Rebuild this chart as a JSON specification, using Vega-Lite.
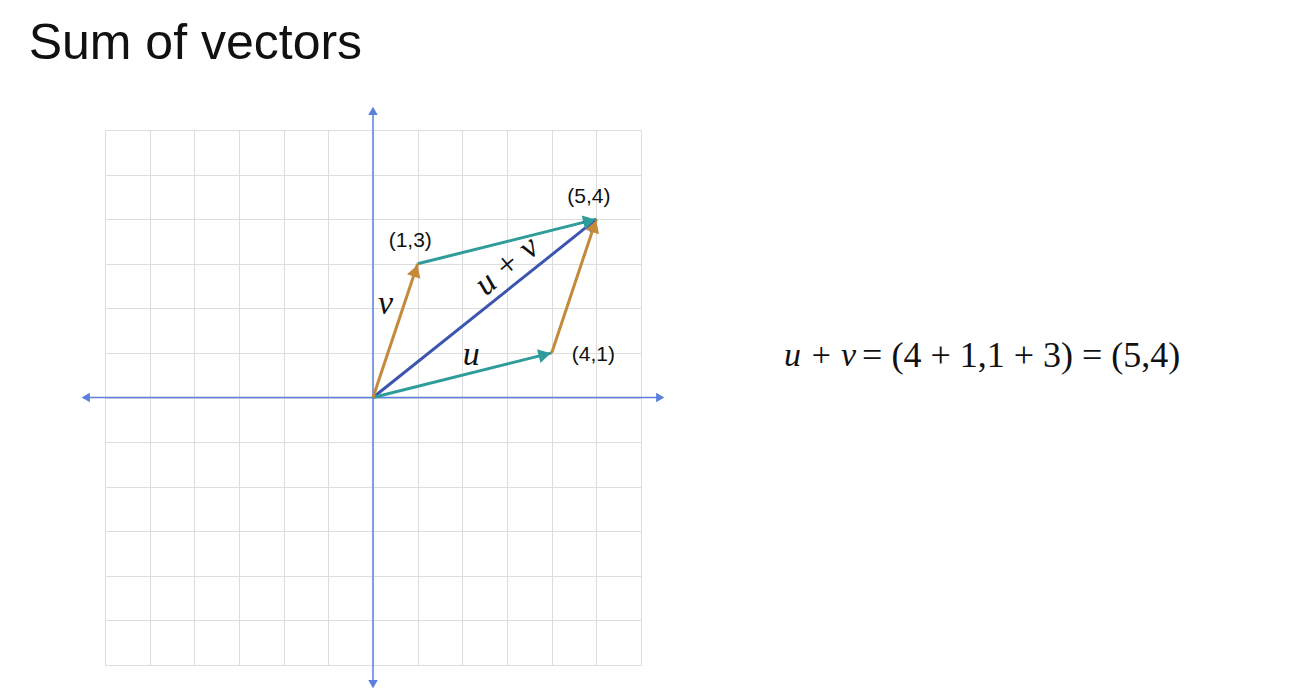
{
"$schema":"https://vega.github.io/schema/vega-lite/v6.json",
"width":536,"height":535,
"autosize":{"type":"none"},
"padding":{"left":105,"top":130,"right":672,"bottom":23},
"background":"white",
"title":{"text":"Sum of vectors","anchor":"start","frame":"bounds","dx":-53,"offset":38,"fontSize":50,"font":"Liberation Sans","fontWeight":"normal","color":"#111"},
"config":{"view":{"stroke":"#ddd"}},
"datasets":{
"axes":[{"x":-6.4,"y":0,"x2":6.4,"y2":0},{"x":0,"y":-6.4,"x2":0,"y2":6.4}],
"heads":[{"x":-6.4,"y":0,"a":-90},{"x":6.4,"y":0,"a":90},{"x":0,"y":6.4,"a":0},{"x":0,"y":-6.4,"a":180}],
"vecs":[
{"name":"sum","x":0,"y":0,"x2":5,"y2":4,"hx":4.85,"hy":3.88,"a":51.34},
{"name":"teal","x":0,"y":0,"x2":4,"y2":1,"hx":3.8,"hy":0.95,"a":75.96},
{"name":"teal","x":1,"y":3,"x2":5,"y2":4,"hx":4.8,"hy":3.95,"a":75.96},
{"name":"orange","x":0,"y":0,"x2":1,"y2":3,"hx":0.94,"hy":2.8,"a":18.43},
{"name":"orange","x":4,"y":1,"x2":5,"y2":4,"hx":4.94,"hy":3.8,"a":18.43}],
"pts":[{"t":"(1,3)","x":0.35,"y":3.5},{"t":"(5,4)","x":4.35,"y":4.5},{"t":"(4,1)","x":4.45,"y":0.95}],
"math":[{"t":"u","x":2.2,"y":0.95,"r":0},{"t":"v","x":0.28,"y":2.1,"r":0},{"t":"u + v","x":3.0,"y":2.95,"r":-40}]
},
"encoding":{
"x":{"type":"quantitative","scale":{"domain":[-6,6],"nice":false},"axis":{"values":[-6,-5,-4,-3,-2,-1,0,1,2,3,4,5,6],"labels":false,"ticks":false,"domain":false,"title":null,"gridColor":"#ddd"}},
"y":{"type":"quantitative","scale":{"domain":[-6,6],"nice":false},"axis":{"values":[-6,-5,-4,-3,-2,-1,0,1,2,3,4,5,6],"labels":false,"ticks":false,"domain":false,"title":null,"gridColor":"#ddd"}}
},
"layer":[
{"data":{"name":"axes"},"mark":{"type":"rule","color":"#5b7fdc","strokeWidth":1.5,"clip":false},"encoding":{"x":{"field":"x"},"y":{"field":"y"},"x2":{"field":"x2"},"y2":{"field":"y2"}}},
{"data":{"name":"heads"},"mark":{"type":"point","shape":"triangle","filled":true,"color":"#5b7fdc","size":90,"opacity":1,"clip":false},"encoding":{"x":{"field":"x"},"y":{"field":"y"},"angle":{"field":"a","type":"quantitative","scale":null}}},
{"data":{"name":"vecs"},"mark":{"type":"rule","strokeWidth":3},"encoding":{"x":{"field":"x"},"y":{"field":"y"},"x2":{"field":"x2"},"y2":{"field":"y2"},"color":{"field":"name","type":"nominal","scale":{"domain":["sum","teal","orange"],"range":["#3b55b0","#2e9c9a","#c48a3a"]},"legend":null}}},
{"data":{"name":"vecs"},"mark":{"type":"point","shape":"triangle","filled":true,"size":200,"opacity":1},"encoding":{"x":{"field":"hx"},"y":{"field":"hy"},"angle":{"field":"a","type":"quantitative","scale":null},"color":{"field":"name","type":"nominal","legend":null}}},
{"data":{"name":"pts"},"mark":{"type":"text","font":"Liberation Sans","fontSize":21,"align":"left","color":"#111"},"encoding":{"x":{"field":"x"},"y":{"field":"y"},"text":{"field":"t"}}},
{"data":{"name":"math"},"mark":{"type":"text","font":"Liberation Serif","fontStyle":"italic","fontSize":34,"color":"#111"},"encoding":{"x":{"field":"x"},"y":{"field":"y"},"text":{"field":"t"},"angle":{"field":"r","type":"quantitative","scale":null}}},
{"data":{"values":[{"t":"u + v","x":9.2,"y":0.93}]},"mark":{"type":"text","font":"Liberation Serif","fontStyle":"italic","fontSize":34,"align":"left","color":"#111","clip":false},"encoding":{"x":{"field":"x"},"y":{"field":"y"},"text":{"field":"t"}}},
{"data":{"values":[{"t":"= (4 + 1,1 + 3) = (5,4)","x":10.95,"y":0.93}]},"mark":{"type":"text","font":"Liberation Serif","fontSize":36,"align":"left","color":"#111","clip":false},"encoding":{"x":{"field":"x"},"y":{"field":"y"},"text":{"field":"t"}}}
]
}
